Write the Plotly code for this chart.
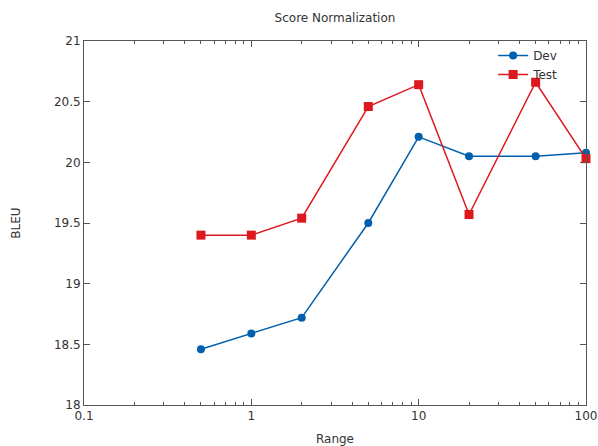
import plotly.graph_objects as go

ranges = [0.5, 1, 2, 5, 10, 20, 50, 100]
dev = [18.46, 18.59, 18.72, 19.50, 20.21, 20.05, 20.05, 20.08]
test = [19.40, 19.40, 19.54, 20.46, 20.64, 19.57, 20.66, 20.03]
x_ticks = [0.1, 1, 10, 100]
x_tick_labels = ["0.1", "1", "10", "100"]
x_minor_ticks = [0.2, 0.3, 0.4, 0.5, 0.6, 0.7, 0.8, 0.9,
                 2, 3, 4, 5, 6, 7, 8, 9,
                 20, 30, 40, 50, 60, 70, 80, 90]
y_ticks = [18, 18.5, 19, 19.5, 20, 20.5, 21]
y_tick_labels = ["18", "18.5", "19", "19.5", "20", "20.5", "21"]

font = "DejaVu Sans"
txt = "#333333"
axc = "#555555"

W, H = 598, 446

fig = go.Figure()
fig.add_trace(go.Scatter(x=ranges, y=dev, name="Dev", mode="lines+markers",
                         line=dict(color="#0060ad", width=1.5),
                         marker=dict(symbol="circle", size=8, color="#0060ad"),
                         cliponaxis=False))
fig.add_trace(go.Scatter(x=ranges, y=test, name="Test", mode="lines+markers",
                         line=dict(color="#dd181f", width=1.5),
                         marker=dict(symbol="square", size=9, color="#dd181f"),
                         cliponaxis=False))

fig.update_layout(
    width=W, height=H,
    margin=dict(l=84, r=12, t=41, b=41, autoexpand=False),
    paper_bgcolor="white", plot_bgcolor="white",
    font=dict(family=font, size=12, color=txt),
    title=dict(text="Score Normalization", x=(84 + 586) / 2 / W, xanchor="center",
               yref="container", y=1 - 18 / H, yanchor="middle",
               automargin=False,
               font=dict(family=font, size=12, color=txt)),
    showlegend=True,
    legend=dict(x=0.815, y=1.0, xanchor="left", yanchor="top",
                bgcolor="rgba(0,0,0,0)", font=dict(size=12, color=txt),
                itemwidth=30, tracegroupgap=0),
)
fig.update_xaxes(type="log", range=[-1, 2], tickvals=x_ticks, ticktext=x_tick_labels,
                 ticks="inside", ticklen=6, tickcolor=axc, showgrid=False, zeroline=False,
                 showline=True, linecolor=axc, linewidth=1, mirror="ticks",
                 automargin=False,
                 minor=dict(tickvals=x_minor_ticks, ticks="inside", ticklen=3,
                            tickcolor=axc, showgrid=False),
                 title=dict(text="Range", standoff=16, font=dict(size=12)),
                 tickfont=dict(size=12))
fig.update_yaxes(range=[18, 21], tickvals=y_ticks, ticktext=y_tick_labels,
                 ticks="inside", ticklen=6, tickcolor=axc, showgrid=False, zeroline=False,
                 showline=True, linecolor=axc, linewidth=1, mirror="ticks",
                 automargin=False,
                 title=dict(text="BLEU", standoff=30, font=dict(size=12)),
                 tickfont=dict(size=12))

fig.write_html("out.html", config={"displayModeBar": False},
               post_script="document.body.style.margin='0';document.body.style.overflow='hidden';")
